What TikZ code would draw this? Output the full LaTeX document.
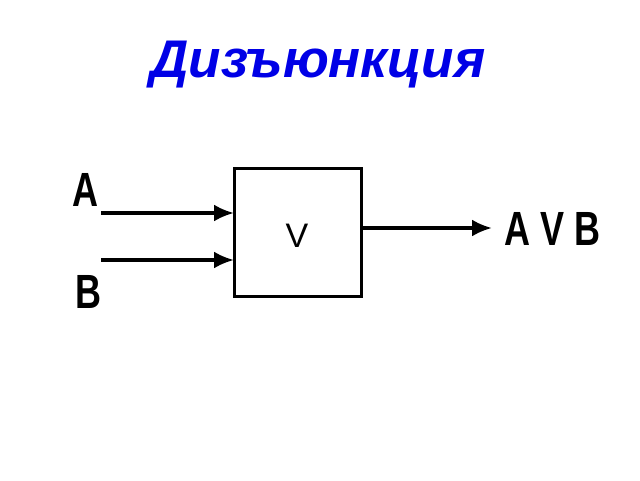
\documentclass[tikz,border=0pt]{standalone}
\usepackage{fontspec}
\setmainfont{Liberation Sans}
\usetikzlibrary{arrows.meta}
\definecolor{titleblue}{RGB}{0,0,230}
\begin{document}
\begin{tikzpicture}[x=1pt,y=-1pt,
  lbl/.style={font=\fontsize{48}{48}\selectfont\bfseries,xscale=0.75},
  conn/.style={line width=3.2pt,-{Latex[length=20pt,width=17pt]}}]
\useasboundingbox (0,0) rectangle (640,480);
\node[font=\fontsize{53}{53}\selectfont\bfseries\itshape,text=titleblue] (t) at (318,65) {Дизъюнкция};
\draw[line width=3pt] (234,168) rectangle (361,296);
\coordinate (in1) at (234,213);
\coordinate (in2) at (234,260);
\coordinate (out) at (361,228);
\coordinate (s1) at (101,213);
\coordinate (s2) at (101,260);
\coordinate (e) at (492,228);
\node[font=\fontsize{34}{34}\selectfont] (v) at (297,236) {V};
\draw[conn] (s1) -- (in1);
\draw[conn] (s2) -- (in2);
\draw[conn] (out) -- (e);
\node[lbl] (a) at (85,190) {A};
\node[lbl] (b) at (88,292) {B};
\node[lbl] (avb) at (553,229) {A V B};
\end{tikzpicture}
\end{document}
